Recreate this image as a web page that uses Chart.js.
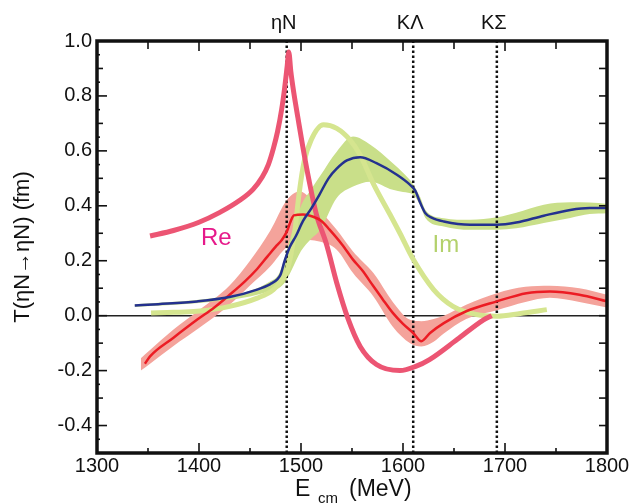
<!DOCTYPE html>
<html>
<head>
<meta charset="utf-8">
<script src="https://cdn.jsdelivr.net/npm/chart.js@4"></script>
<style>
  body { margin: 0; background: #fff; }
  #wrap { width: 636px; height: 504px; }
</style>
</head>
<body>
<div id="wrap"><canvas id="tChart" width="636" height="504"></canvas></div>
<script>
// thick curves (older model): Re and Im
const reOldE = [1352, 1375, 1400, 1420, 1440, 1453, 1462, 1468, 1473, 1477, 1481, 1484, 1486.5, 1488, 1490, 1493, 1497, 1502, 1508, 1515, 1525, 1535, 1546, 1558, 1574, 1597, 1613, 1626, 1653, 1679, 1687];
const reOldT = [0.29, 0.31, 0.34, 0.375, 0.42, 0.46, 0.505, 0.55, 0.61, 0.67, 0.75, 0.83, 0.91, 0.96, 0.89, 0.81, 0.72, 0.61, 0.49, 0.37, 0.26, 0.12, -0.01, -0.112, -0.178, -0.2, -0.184, -0.16, -0.087, -0.015, 0.0];

const imOldE = [1353, 1375, 1398, 1430, 1457, 1473, 1482, 1486, 1490, 1494, 1498, 1503, 1510, 1522, 1535, 1548, 1558, 1571, 1587, 1597, 1610, 1630, 1649, 1672, 1692, 1715, 1741];
const imOldT = [0.01, 0.012, 0.016, 0.034, 0.064, 0.095, 0.135, 0.16, 0.22, 0.31, 0.44, 0.56, 0.64, 0.695, 0.682, 0.64, 0.585, 0.48, 0.37, 0.30, 0.205, 0.095, 0.034, 0.004, -0.002, 0.008, 0.022];

// thin curves (new fit) with error bands
const reNewE = [1347, 1352, 1375, 1398, 1415, 1430, 1445, 1457, 1467, 1476, 1481, 1486, 1490, 1493, 1502, 1512, 1520, 1528, 1540, 1551, 1560, 1571, 1580, 1590, 1600, 1610, 1618, 1626.5, 1640, 1662, 1692, 1721, 1744, 1773, 1800];
const reNewT = [-0.175, -0.148, -0.08, -0.015, 0.03, 0.076, 0.125, 0.17, 0.215, 0.255, 0.275, 0.305, 0.345, 0.365, 0.368, 0.36, 0.345, 0.313, 0.26, 0.204, 0.165, 0.107, 0.06, 0.01, -0.03, -0.063, -0.093, -0.063, -0.027, 0.016, 0.052, 0.082, 0.088, 0.076, 0.052];

const reBandE = [1343, 1352, 1375, 1400, 1430, 1450, 1470, 1486, 1499, 1518, 1535, 1551, 1571, 1590, 1607, 1618, 1630, 1640, 1662, 1692, 1720, 1744, 1773, 1800];
const reBandHi = [-0.155, -0.125, -0.05, 0.02, 0.11, 0.2, 0.31, 0.42, 0.452, 0.385, 0.313, 0.234, 0.155, 0.05, -0.015, -0.02, -0.012, 0.0, 0.04, 0.082, 0.105, 0.109, 0.1, 0.076];
const reBandLo = [-0.2, -0.175, -0.11, -0.045, 0.04, 0.11, 0.18, 0.25, 0.276, 0.27, 0.24, 0.155, 0.07, -0.04, -0.10, -0.112, -0.095, -0.065, -0.012, 0.02, 0.05, 0.065, 0.05, 0.03];

const imNewE = [1337, 1360, 1398, 1430, 1457, 1470, 1477, 1480, 1484, 1489, 1495, 1502, 1510, 1518, 1527, 1535, 1545, 1558, 1574, 1594, 1607, 1612, 1617, 1622, 1628, 1640, 1666, 1692, 1711, 1738, 1764, 1783, 1800];
const imNewT = [0.037, 0.042, 0.052, 0.068, 0.095, 0.115, 0.133, 0.15, 0.2, 0.25, 0.29, 0.345, 0.39, 0.44, 0.5, 0.535, 0.565, 0.577, 0.555, 0.513, 0.476, 0.455, 0.41, 0.373, 0.357, 0.343, 0.331, 0.331, 0.339, 0.364, 0.385, 0.392, 0.392];

const imBandE = [1337, 1400, 1450, 1470, 1478, 1484, 1490, 1500, 1510, 1519, 1535, 1551, 1568, 1590, 1600, 1610, 1617, 1622, 1640, 1666, 1692, 1711, 1738, 1764, 1783, 1800];
const imBandHi = [0.042, 0.058, 0.09, 0.125, 0.15, 0.21, 0.29, 0.40, 0.46, 0.51, 0.597, 0.652, 0.622, 0.555, 0.52, 0.478, 0.43, 0.385, 0.355, 0.349, 0.358, 0.375, 0.404, 0.413, 0.412, 0.407];
const imBandLo = [0.032, 0.046, 0.07, 0.09, 0.10, 0.12, 0.16, 0.235, 0.28, 0.313, 0.428, 0.47, 0.488, 0.458, 0.45, 0.44, 0.40, 0.356, 0.325, 0.313, 0.313, 0.318, 0.337, 0.356, 0.37, 0.373];

// thresholds
const thresholdE = [1486, 1610, 1692];
const thresholdLabels = ['ηN', 'KΛ', 'KΣ'];

const FONT = '"Liberation Sans", Arial, sans-serif';
const pts = (xs, ys) => xs.map((x, i) => ({ x: x, y: ys[i] }));

const curve = (data, color, width, order) => ({
  data: data,
  borderColor: color,
  borderWidth: width,
  order: order,
  cubicInterpolationMode: 'monotone',
  fill: false,
});

const datasets = [
  // 0,1: salmon band
  { data: pts(reBandE, reBandHi), borderWidth: 0, borderColor: 'transparent', cubicInterpolationMode: 'monotone', fill: false, order: 9 },
  { data: pts(reBandE, reBandLo), borderWidth: 0, borderColor: 'transparent', cubicInterpolationMode: 'monotone', fill: '-1', backgroundColor: '#f4a39b', order: 9 },
  // 2,3: green band
  { data: pts(imBandE, imBandHi), borderWidth: 0, borderColor: 'transparent', cubicInterpolationMode: 'monotone', fill: false, order: 8 },
  { data: pts(imBandE, imBandLo), borderWidth: 0, borderColor: 'transparent', cubicInterpolationMode: 'monotone', fill: '-1', backgroundColor: '#c9df89', order: 8 },
  curve(pts(imOldE, imOldT), '#d5e58f', 5, 5),
  curve(pts(reOldE, reOldT), '#ec5573', 5, 4),
  curve(pts(reNewE, reNewT), '#ec1c24', 2.5, 2),
  curve(pts(imNewE, imNewT), '#24318f', 2.5, 1),
];

// vertical dotted threshold lines
thresholdE.forEach(e => {
  datasets.push({
    data: [{ x: e, y: -0.5 }, { x: e, y: 1.0 }],
    borderColor: '#111',
    borderWidth: 2.5,
    borderDash: [2.5, 2.5],
    fill: false,
    order: 6,
  });
});

const overlay = {
  id: 'overlay',
  afterDraw(chart) {
    const { ctx, chartArea: a, scales: { x, y } } = chart;
    const seg = (x1, y1, x2, y2) => { ctx.beginPath(); ctx.moveTo(x1, y1); ctx.lineTo(x2, y2); ctx.stroke(); };
    ctx.save();
    ctx.strokeStyle = '#111';
    ctx.lineWidth = 1.6;

    // inward ticks, x
    for (let e = 1300; e <= 1800; e += 50) {
      const px = x.getPixelForValue(e);
      const major = e % 100 === 0;
      seg(px, a.bottom, px, a.bottom - (major ? 10 : 5));
      seg(px, a.top, px, a.top + (major ? 10 : 8));
    }
    // inward ticks, y
    for (let i = -10; i <= 20; i++) {
      const py = y.getPixelForValue(i * 0.05);
      const len = i % 4 === 0 ? 10 : (i % 2 === 0 ? 6 : 3);
      seg(a.left, py, a.left + len, py);
      if (i % 2 === 0) seg(a.right, py, a.right - 8, py);
    }

    // frame
    ctx.lineWidth = 3.5;
    ctx.strokeRect(a.left, a.top, a.right - a.left, a.bottom - a.top);

    // threshold labels above the frame
    ctx.fillStyle = '#111';
    ctx.font = '20px ' + FONT;
    ctx.textAlign = 'center';
    ctx.textBaseline = 'alphabetic';
    thresholdE.forEach((e, i) => {
      ctx.fillText(thresholdLabels[i], x.getPixelForValue(e) - 3, 29);
    });

    // curve labels
    ctx.font = '24px ' + FONT;
    ctx.textBaseline = 'middle';
    ctx.fillStyle = '#e6198a';
    ctx.fillText('Re', x.getPixelForValue(1417), y.getPixelForValue(0.28));
    ctx.fillStyle = '#b3d16c';
    ctx.fillText('Im', x.getPixelForValue(1642), y.getPixelForValue(0.255));

    // x axis title with subscript
    ctx.fillStyle = '#111';
    ctx.textAlign = 'left';
    ctx.textBaseline = 'alphabetic';
    ctx.font = '23px ' + FONT;
    ctx.fillText('E', 295, 496);
    ctx.font = '15px ' + FONT;
    ctx.fillText('cm', 318, 503);
    ctx.font = '23px ' + FONT;
    ctx.fillText('(MeV)', 349, 496);
    ctx.restore();
  }
};

new Chart(document.getElementById('tChart'), {
  type: 'line',
  data: { datasets: datasets },
  options: {
    responsive: false,
    animation: false,
    devicePixelRatio: 1,
    layout: { padding: { top: 41, right: 29, left: 0, bottom: 0 } },
    elements: { point: { radius: 0 } },
    plugins: { legend: { display: false }, tooltip: { enabled: false } },
    scales: {
      x: {
        type: 'linear',
        min: 1300,
        max: 1800,
        afterFit: s => { s.height = 51; },
        ticks: {
          stepSize: 100,
          color: '#111',
          font: { size: 20, family: FONT },
          padding: 1,
          maxRotation: 0,
          callback: v => String(v),
        },
        grid: { display: false, drawTicks: false },
        border: { display: false },
      },
      y: {
        min: -0.5,
        max: 1.0,
        afterFit: s => { s.width = 97; },
        ticks: {
          stepSize: 0.1,
          color: '#111',
          font: { size: 20, family: FONT },
          padding: 5,
          autoSkip: false,
          callback: v => (Math.round(v * 10) % 2 === 0 ? v.toFixed(1) : ''),
        },
        grid: {
          drawTicks: false,
          lineWidth: 1.5,
          color: c => (c.tick && Math.abs(c.tick.value) < 1e-9 ? '#222' : 'transparent'),
        },
        border: { display: false },
        title: {
          display: true,
          text: 'T(ηN→ηN) (fm)',
          color: '#111',
          font: { size: 22, family: FONT },
          padding: { top: 10, bottom: 0 },
        },
      },
    },
  },
  plugins: [overlay],
});
</script>
</body>
</html>
